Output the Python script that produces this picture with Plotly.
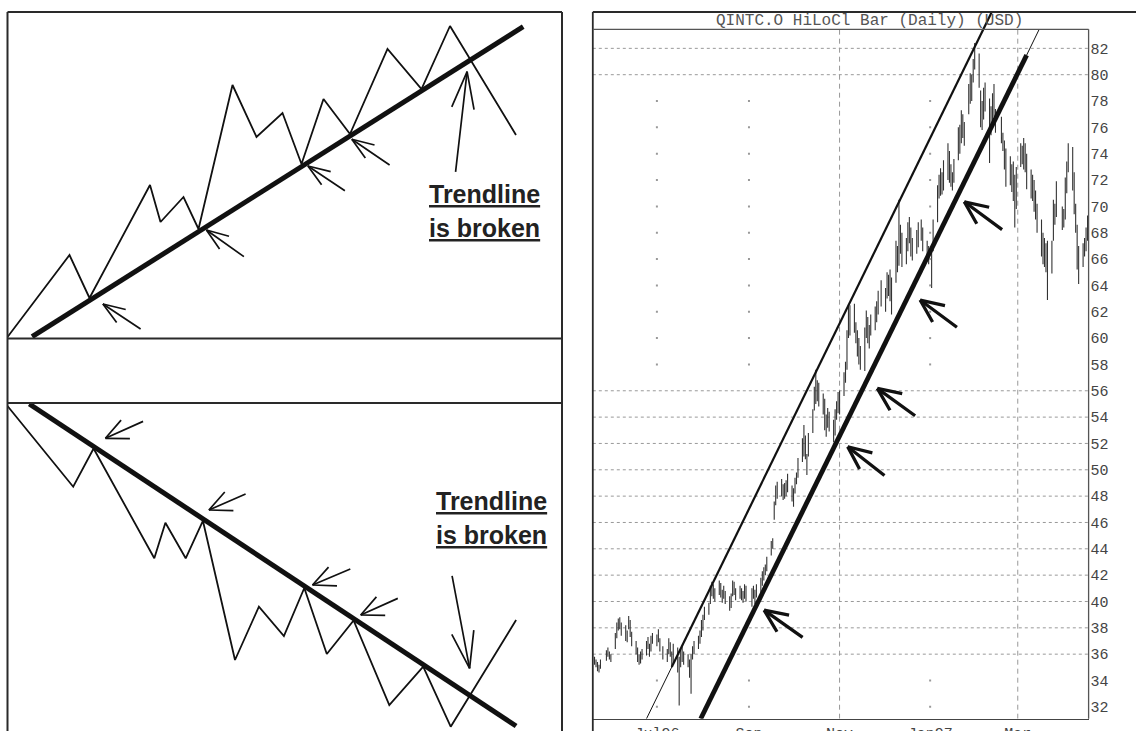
import math
import pandas as pd
import plotly.graph_objects as go

W, H = 1136, 731

# ================= left schematics (x: horizontal position, y: level) =================
up_zig_x = [0, 62, 82, 142.5, 153, 176, 191, 225, 249, 275, 294, 316, 342.5, 380, 414, 442.5, 508.5]
up_zig_y = [1, 83, 40, 153, 116, 141, 109, 253, 201, 225, 174, 239, 204, 289, 249, 312, 203]
up_trend_x = [24.6, 515.7]
up_trend_y = [1.3, 311.3]

dn_zig_x = [0, 65.7, 86.1, 146.8, 157.9, 178.2, 195.4, 227.5, 251.4, 276.4, 296.8, 319.3, 346.1, 381.8, 415.7, 443.2, 508.6]
dn_zig_y = [325, 244.3, 282.5, 172.7, 208.3, 172.7, 210.2, 71, 124.3, 95, 143, 77, 110.5, 26, 64.4, 4.3, 111]
dn_trend_x = [21.8, 508.6]
dn_trend_y = [327, 5]

# arrows: tip position (data) and shaft offset to tail (pixels)
up_arrow_x = [95.4, 198.9, 300.4, 344.3, 459.6]
up_arrow_y = [34, 108, 172, 198.7, 266.3]
up_arrow_dx = [39.2, 39.0, 38.5, 39.3, -11.7]
up_arrow_dy = [26, 27.7, 25.7, 26.7, 101.6]
up_head_len = [25, 25, 25, 25, 40]
up_head_ang = [20, 20, 20, 20, 17]

dn_arrow_x = [97.9, 201.4, 305, 353.2, 462.1]
dn_arrow_y = [292.7, 221, 146, 116, 62.7]
dn_arrow_dx = [39.2, 38.2, 39.3, 38.6, -17.8]
dn_arrow_dy = [-17.6, -16.7, -16.7, -17.3, -94]
dn_head_len = [26, 26, 26, 26, 40]
dn_head_ang = [25, 25, 25, 25, 17]

# ================= QINTC.O daily HiLoCl bars =================
holidays = ["1996-05-27", "1996-07-04", "1996-09-02", "1996-11-28", "1996-12-25",
            "1997-01-01", "1997-02-17", "1997-03-28"]

may_hi = [35.8, 35.6, 35.4, 35.2, 35.6, 36.3, 36.5, 36.2, 36.0]
may_lo = [35.2, 35.0, 34.7, 34.6, 34.9, 35.5, 35.8, 35.6, 35.4]
may_cl = [35.5, 35.3, 35.0, 34.9, 35.4, 36.1, 36.0, 35.8, 35.6]

jun_hi = [37.6, 38.4, 38.7, 38.8, 38.4, 38.2, 37.8, 38.9, 38.6, 37.7, 37.0, 36.5, 36.0, 36.2, 36.4, 37.0, 37.3, 36.8, 37.4, 37.6]
jun_lo = [36.4, 37.2, 37.8, 37.9, 37.4, 37.0, 36.9, 37.9, 37.3, 36.6, 36.0, 35.4, 35.2, 35.3, 35.6, 35.9, 36.4, 35.8, 36.2, 36.8]
jun_cl = [37.3, 38.2, 38.5, 38.1, 37.6, 37.5, 37.2, 38.6, 37.5, 36.9, 36.2, 35.6, 35.5, 35.9, 36.0, 36.8, 36.6, 36.2, 37.1, 37.4]

jul_hi = [37.5, 37.9, 37.2, 36.6, 36.4, 37.2, 36.9, 36.2, 36.8, 36.5, 35.8, 36.4, 36.6, 36.2, 36.0, 35.6, 36.0, 36.6, 37.0, 37.4, 37.8, 38.6]
jul_lo = [36.6, 36.9, 36.2, 35.6, 35.4, 36.0, 35.8, 35.0, 35.2, 34.6, 32.1, 35.0, 35.4, 35.2, 35.0, 34.2, 33.0, 35.6, 36.0, 36.4, 36.8, 37.3]
jul_cl = [37.2, 37.0, 36.4, 35.9, 36.1, 36.9, 36.0, 35.3, 36.4, 34.9, 35.4, 36.0, 35.8, 35.7, 35.3, 34.5, 35.8, 36.3, 36.8, 37.2, 37.5, 38.4]

aug_hi = [39.0, 39.6, 39.9, 41.2, 41.5, 41.3, 41.0, 41.6, 41.4, 40.9, 41.2, 40.8, 40.4, 40.6, 41.6, 41.5, 41.0, 41.2, 41.0, 40.8, 41.3, 41.2]
aug_lo = [37.8, 38.6, 39.0, 39.8, 40.4, 40.2, 40.0, 40.5, 40.3, 39.9, 40.2, 39.8, 39.3, 39.5, 40.4, 40.5, 40.1, 40.2, 40.1, 39.9, 40.2, 40.0]
aug_cl = [38.8, 39.4, 39.6, 40.9, 41.0, 40.5, 40.8, 41.2, 40.6, 40.4, 40.9, 40.2, 39.6, 40.3, 41.3, 40.8, 40.6, 41.0, 40.3, 40.6, 40.9, 40.4]

sep_hi = [41.0, 41.2, 40.9, 41.3, 41.8, 42.3, 42.6, 42.8, 43.4, 44.6, 44.8, 47.6, 48.8, 49.1, 49.3, 48.9, 49.0, 49.2, 49.7, 48.8]
sep_lo = [39.6, 40.2, 39.8, 40.3, 40.6, 41.2, 41.6, 42.0, 42.3, 43.5, 44.0, 46.2, 47.3, 47.8, 48.0, 47.7, 47.8, 48.0, 48.3, 47.6]
sep_cl = [40.8, 40.5, 40.6, 41.1, 41.6, 42.0, 42.4, 42.6, 43.2, 44.4, 44.6, 47.4, 48.5, 48.2, 48.6, 48.4, 48.8, 48.5, 49.0, 48.0]

oct_hi = [48.6, 49.4, 49.8, 50.9, 52.4, 53.4, 52.6, 51.2, 52.8, 54.6, 56.3, 57.6, 56.8, 56.6, 55.8, 55.4, 54.2, 54.7, 54.4, 53.8, 54.6, 55.2, 55.9]
oct_lo = [47.2, 48.2, 48.9, 49.4, 50.6, 51.0, 50.8, 49.6, 51.0, 52.8, 54.5, 55.0, 55.2, 54.8, 54.2, 53.0, 52.5, 53.2, 52.9, 52.1, 52.6, 53.8, 54.3]
oct_cl = [48.3, 49.2, 49.6, 50.6, 51.2, 52.8, 51.0, 50.8, 52.5, 54.3, 55.8, 55.6, 56.2, 55.2, 54.6, 53.6, 53.8, 53.6, 53.2, 52.6, 54.2, 54.8, 55.6]

nov_hi = [56.0, 57.4, 58.2, 60.6, 62.4, 62.5, 62.6, 61.2, 60.6, 60.0, 59.4, 60.8, 62.1, 61.6, 61.0, 61.8, 62.4, 62.8, 63.6, 64.4]
nov_lo = [54.2, 55.6, 56.6, 57.6, 60.0, 60.2, 60.4, 59.6, 58.6, 58.0, 57.6, 57.5, 60.0, 59.6, 59.2, 60.2, 60.6, 61.2, 61.8, 62.4]
nov_cl = [55.8, 57.0, 57.8, 60.2, 61.2, 60.8, 61.0, 60.0, 59.2, 58.6, 58.2, 60.4, 61.4, 60.2, 60.6, 61.2, 61.8, 62.4, 62.6, 63.8]

dec_hi = [63.8, 65.0, 64.8, 65.2, 64.6, 67.4, 67.0, 70.5, 68.6, 68.0, 67.6, 68.8, 69.2, 68.4, 67.6, 68.2, 68.8, 69.0, 68.4, 67.4, 67.0]
dec_lo = [62.0, 63.0, 63.2, 62.8, 61.8, 64.2, 65.0, 65.5, 66.4, 65.4, 65.6, 66.6, 67.2, 66.2, 65.9, 66.4, 66.9, 67.4, 66.6, 66.3, 65.6]
dec_cl = [63.4, 64.6, 63.6, 64.8, 63.9, 66.8, 66.2, 67.9, 67.2, 66.0, 67.2, 68.2, 67.8, 66.8, 67.2, 67.8, 68.3, 67.9, 66.9, 66.8, 66.2]

jan_hi = [66.6, 69.0, 71.6, 72.4, 72.9, 72.6, 73.5, 74.8, 74.2, 73.2, 72.6, 73.6, 76.0, 76.2, 77.3, 77.0, 76.4, 79.3, 80.1, 80.0, 81.2, 82.4]
jan_lo = [63.8, 66.6, 68.8, 70.6, 70.8, 70.9, 71.2, 72.0, 71.8, 71.5, 71.2, 71.8, 73.5, 74.0, 74.8, 75.2, 74.6, 77.0, 77.8, 78.0, 79.4, 80.4]
jan_cl = [65.8, 68.6, 70.8, 71.2, 71.6, 72.2, 72.8, 73.2, 72.4, 72.0, 72.4, 73.4, 75.6, 74.6, 76.8, 75.8, 75.0, 78.8, 79.6, 78.4, 80.6, 80.8]

feb_hi = [81.6, 78.8, 78.0, 79.0, 79.4, 78.2, 77.6, 78.6, 79.3, 77.4, 76.8, 75.6, 75.0, 74.4, 73.8, 73.2, 73.4, 72.4, 73.0]
feb_lo = [79.0, 76.0, 75.8, 76.6, 77.2, 73.3, 75.4, 76.2, 76.8, 75.6, 74.8, 74.2, 72.8, 71.5, 71.6, 71.1, 70.4, 68.4, 69.8]
feb_cl = [79.4, 76.6, 77.2, 78.6, 77.8, 75.4, 76.8, 78.2, 77.2, 76.0, 75.2, 74.8, 73.4, 72.2, 72.6, 71.8, 70.8, 69.4, 72.6]

mar_hi = [74.8, 74.6, 75.2, 74.8, 74.0, 72.8, 72.4, 72.0, 71.2, 70.2, 69.0, 68.0, 67.6, 67.2, 67.4, 67.4, 70.5, 70.2, 71.9, 70.0]
mar_lo = [73.0, 73.2, 72.8, 72.6, 71.3, 70.6, 70.4, 69.6, 69.0, 68.0, 66.2, 65.6, 65.4, 65.0, 62.9, 64.9, 67.4, 68.6, 69.2, 68.2]
mar_cl = [74.2, 73.8, 74.8, 73.0, 71.8, 71.4, 70.8, 70.2, 69.4, 68.6, 66.8, 66.2, 65.8, 65.6, 65.2, 65.4, 69.8, 69.2, 70.6, 68.8]

apr_hi = [69.8, 72.2, 73.4, 74.8, 74.5, 72.6, 70.2, 68.6, 67.0, 67.2, 67.6, 68.4, 69.3]
apr_lo = [68.4, 69.0, 71.0, 72.6, 71.2, 69.4, 68.0, 65.2, 64.1, 65.4, 66.2, 66.6, 67.4]
apr_cl = [69.4, 71.6, 72.8, 73.2, 72.0, 70.0, 68.6, 66.0, 64.8, 66.8, 67.2, 68.0, 68.8]

# trendlines drawn on the chart (date, price)
main_trend_dates = ["1996-07-30 12:00", "1997-03-07 00:00"]
main_trend_vals = [31.1, 81.49]
main_ext_dates = ["1997-03-07 00:00", "1997-03-15 10:00"]
main_ext_vals = [81.49, 83.44]
chan_thin_dates = ["1996-06-24 00:00", "1996-07-11 00:00"]
chan_thin_vals = [31.1, 35.02]
chan_dates = ["1996-07-11 00:00", "1997-02-11 12:00"]
chan_vals = [35.02, 84.76]

# arrows on the chart: tip (date, price), shaft offset to tail (pixels)
chart_arrow_x = ["1996-09-11 04:30", "1996-11-06 11:30", "1996-11-26 10:00", "1996-12-25 06:00", "1997-01-24 00:00"]
chart_arrow_y = [39.35, 51.75, 56.18, 62.89, 70.35]
chart_arrow_dx = [40, 38.3, 39.3, 38.3, 39.3]
chart_arrow_dy = [28.3, 30, 28.4, 28.3, 29]

# axes / ticks
x_range = ["1996-05-18 20:00", "1997-04-17 17:00"]
y_range = [31.10, 84.76]
y_ticks = list(range(32, 83, 2))
x_tick_vals = ["1996-07-01", "1996-09-01", "1996-11-01", "1997-01-01", "1997-03-01"]
x_tick_text = ["Jul96", "Sep", "Nov", "Jan97", "Mar"]
grid_h_levels = [36, 38, 40, 42, 44, 46, 48, 50, 52, 54, 56, 80, 82]
grid_v_dashed = ["1996-11-01", "1997-03-01"]
grid_dot_dates = ["1996-07-01", "1996-09-01", "1997-01-01"]
grid_dot_levels = [32, 34, 58, 60, 62, 64, 66, 68, 70, 72, 74, 76, 78]
plot_top_val = 83.44

title_text = "QINTC.O HiLoCl Bar (Daily) (USD)"

# ---------------------------------------------------------------
dates = pd.bdate_range("1996-05-20", "1997-04-17")
dates = dates[~dates.isin(pd.to_datetime(holidays))]
high = may_hi + jun_hi + jul_hi + aug_hi + sep_hi + oct_hi + nov_hi + dec_hi + jan_hi + feb_hi + mar_hi + apr_hi
low = may_lo + jun_lo + jul_lo + aug_lo + sep_lo + oct_lo + nov_lo + dec_lo + jan_lo + feb_lo + mar_lo + apr_lo
close = may_cl + jun_cl + jul_cl + aug_cl + sep_cl + oct_cl + nov_cl + dec_cl + jan_cl + feb_cl + mar_cl + apr_cl
n = min(len(dates), len(high), len(low), len(close))
dates = dates[:n]

INK = "#111111"
fig = go.Figure()

# ---- price chart
fig.add_trace(go.Ohlc(
    x=dates, open=close[:n], high=high[:n], low=low[:n], close=close[:n],
    xaxis="x", yaxis="y", tickwidth=0.3,
    increasing=dict(line=dict(color="#333333", width=1.1)),
    decreasing=dict(line=dict(color="#333333", width=1.1)),
    showlegend=False, hoverinfo="skip"))

fig.add_trace(go.Scatter(x=grid_dot_dates * len(grid_dot_levels),
                         y=[lv for lv in grid_dot_levels for _ in grid_dot_dates],
                         mode="markers", marker=dict(size=2, color="#999", symbol="square"),
                         xaxis="x", yaxis="y", showlegend=False, hoverinfo="skip"))

for xs, ys, w in [(chan_thin_dates, chan_thin_vals, 1), (chan_dates, chan_vals, 2.2),
                  (main_trend_dates, main_trend_vals, 4.8), (main_ext_dates, main_ext_vals, 1)]:
    fig.add_trace(go.Scatter(x=xs, y=ys, mode="lines", line=dict(color=INK, width=w),
                             xaxis="x", yaxis="y", showlegend=False, hoverinfo="skip"))

# ---- left schematics
fig.add_trace(go.Scatter(x=up_zig_x, y=up_zig_y, mode="lines", line=dict(color=INK, width=1.8),
                         xaxis="x2", yaxis="y2", showlegend=False, hoverinfo="skip"))
fig.add_trace(go.Scatter(x=up_trend_x, y=up_trend_y, mode="lines", line=dict(color=INK, width=5),
                         xaxis="x2", yaxis="y2", showlegend=False, hoverinfo="skip"))
fig.add_trace(go.Scatter(x=dn_zig_x, y=dn_zig_y, mode="lines", line=dict(color=INK, width=1.8),
                         xaxis="x3", yaxis="y3", showlegend=False, hoverinfo="skip"))
fig.add_trace(go.Scatter(x=dn_trend_x, y=dn_trend_y, mode="lines", line=dict(color=INK, width=5),
                         xaxis="x3", yaxis="y3", showlegend=False, hoverinfo="skip"))


def arrows(xs, ys, dxs, dys, lens, angs, xref, yref, width):
    out = []
    for x, y, dx, dy, L, th in zip(xs, ys, dxs, dys, lens, angs):
        m = math.hypot(dx, dy)
        ux, uy = dx / m, dy / m
        segs = [(dx, dy)]
        for s in (1, -1):
            t = math.radians(th * s)
            segs.append(((ux * math.cos(t) - uy * math.sin(t)) * L,
                         (ux * math.sin(t) + uy * math.cos(t)) * L))
        for ax, ay in segs:
            out.append(dict(x=x, y=y, xref=xref, yref=yref, ax=ax, ay=ay,
                            axref="pixel", ayref="pixel", showarrow=True, arrowhead=0,
                            arrowwidth=width, arrowcolor=INK, text="", font=dict(size=1),
                            standoff=0, startstandoff=0))
    return out


annotations = []
annotations += arrows(up_arrow_x, up_arrow_y, up_arrow_dx, up_arrow_dy, up_head_len, up_head_ang, "x2", "y2", 1.7)
annotations += arrows(dn_arrow_x, dn_arrow_y, dn_arrow_dx, dn_arrow_dy, dn_head_len, dn_head_ang, "x3", "y3", 1.7)
annotations += arrows(chart_arrow_x, chart_arrow_y, chart_arrow_dx, chart_arrow_dy,
                      [27] * 5, [24] * 5, "x", "y", 3.3)

label_font = dict(family="Liberation Sans, Arial", size=25, color="#222")
for (x, y, t, xr, yr) in [(476.5, 144, "Trendline", "x2", "y2"), (476.5, 110, "is broken", "x2", "y2"),
                          (483.5, 230, "Trendline", "x3", "y3"), (483.5, 196, "is broken", "x3", "y3")]:
    annotations.append(dict(x=x, y=y, xref=xr, yref=yr, text="<b><u>" + t + "</u></b>",
                            showarrow=False, font=label_font, xanchor="center", yanchor="middle"))

annotations.append(dict(x=869.4 / W, y=1 - 21 / H, xref="paper", yref="paper", text=title_text,
                        showarrow=False, xanchor="center", yanchor="middle",
                        font=dict(family="Liberation Mono, Courier New", size=16, color="#555")))


def pline(x0, y0, x1, y1, w=2, color="#2a2a2a"):
    return dict(type="line", xref="paper", yref="paper", x0=x0 / W, x1=x1 / W,
                y0=1 - y0 / H, y1=1 - y1 / H, line=dict(color=color, width=w), layer="above")


shapes = [
    # left panel frame
    pline(7.5, 12, 7.5, 731), pline(7.5, 12, 562, 12), pline(562, 12, 562, 731),
    pline(7.5, 338.5, 562, 338.5), pline(7.5, 403, 562, 403),
    # chart frame
    pline(592.8, 12, 1136, 12, 1.8), pline(592.8, 12, 592.8, 731, 1.8),
    pline(592.8, 29.3, 1088.6, 29.3, 1.3, "#555"), pline(1088.6, 29.3, 1088.6, 718.7, 1.3, "#555"),
]
for lv in grid_h_levels:
    shapes.append(dict(type="line", xref="x domain", yref="y", x0=0, x1=1, y0=lv, y1=lv,
                       line=dict(color="#999", width=1, dash="3px,3px"), layer="below"))
for d in grid_v_dashed:
    shapes.append(dict(type="line", xref="x", yref="y", x0=d, x1=d, y0=y_range[0], y1=plot_top_val,
                       line=dict(color="#999", width=1, dash="5px,4px"), layer="below"))

mono = dict(family="Liberation Mono, Courier New", size=15, color="#444")
hidden = dict(visible=False, fixedrange=True, automargin=False)
fig.update_layout(
    width=W, height=H, margin=dict(l=0, r=0, t=0, b=0, autoexpand=False),
    paper_bgcolor="white", plot_bgcolor="white", hovermode=False, showlegend=False,
    xaxis=dict(type="date", domain=[592.8 / W, 1088.6 / W], range=x_range, anchor="y",
               showgrid=False, zeroline=False, showline=True, linecolor="#444", linewidth=1.3,
               ticks="", tickvals=x_tick_vals, ticktext=x_tick_text, tickfont=mono,
               rangeslider=dict(visible=False), fixedrange=True, automargin=False),
    yaxis=dict(domain=[1 - 718.7 / H, 1 - 12 / H], range=y_range, anchor="x", side="right",
               showgrid=False, zeroline=False, showline=False, ticks="", tickvals=y_ticks,
               tickfont=mono, ticklabelstandoff=1, fixedrange=True, automargin=False),
    xaxis2=dict(domain=[7.5 / W, 562 / W], range=[0, 554.5], anchor="y2", **hidden),
    yaxis2=dict(domain=[1 - 338 / H, 1 - 12 / H], range=[0, 326], anchor="x2", **hidden),
    xaxis3=dict(domain=[7.5 / W, 562 / W], range=[0, 554.5], anchor="y3", **hidden),
    yaxis3=dict(domain=[0, 1 - 403 / H], range=[0, 328], anchor="x3", **hidden),
    shapes=shapes, annotations=annotations,
)

fig.write_html("out.html", config={"displayModeBar": False},
               post_script="document.body.style.margin='0px';document.body.style.overflow='hidden';")
